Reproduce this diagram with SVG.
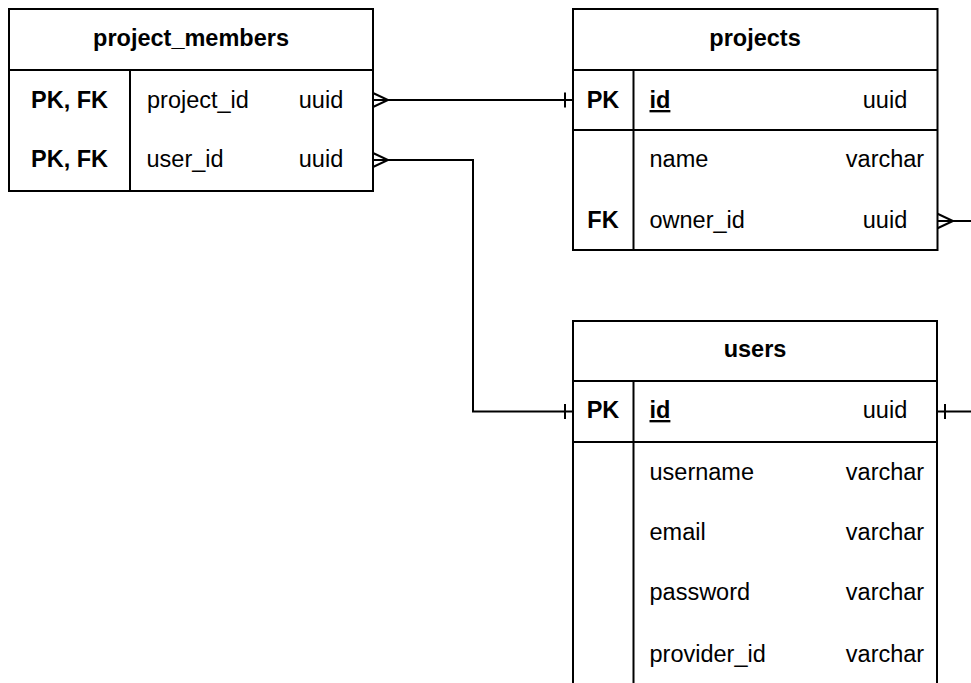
<svg xmlns="http://www.w3.org/2000/svg" width="971" height="683" viewBox="0 0 971 683">
<style>
.box{fill:#fff;stroke:#000;stroke-width:2}
.ln{stroke:#000;stroke-width:2;fill:none}
.t{font-family:"Liberation Sans",Arial,sans-serif;font-size:23.5px;fill:#000}
.b{font-weight:bold}
.m{text-anchor:middle}
.u{text-decoration:underline}
</style>
<rect width="971" height="683" fill="#fff"/>
<g id="connectors">
  <polyline class="ln" points="373,100 573,100"/>
  <polyline class="ln" points="373,93 388,100 373,107"/>
  <line class="ln" x1="565" y1="92.5" x2="565" y2="107.5"/>
  <polyline class="ln" points="373,160 473,160 473,411.5 573,411.5"/>
  <polyline class="ln" points="373,153 388,160 373,167"/>
  <line class="ln" x1="565" y1="404" x2="565" y2="419"/>
  <polyline class="ln" points="937,221 971,221"/>
  <polyline class="ln" points="937,213.5 953,221 937,228.5"/>
  <polyline class="ln" points="937,411.5 971,411.5"/>
  <line class="ln" x1="945" y1="404" x2="945" y2="419"/>
</g>
<g id="project_members">
  <rect class="box" x="9" y="9" width="364" height="182"/>
  <line class="ln" x1="9" y1="70" x2="373" y2="70"/>
  <line class="ln" x1="130" y1="70" x2="130" y2="191"/>
  <text class="t b m" x="191" y="46">project_members</text>
  <text class="t b m" x="69.5" y="108">PK, FK</text>
  <text class="t" x="147" y="108">project_id</text>
  <text class="t m" x="321" y="108">uuid</text>
  <text class="t b m" x="69.5" y="167">PK, FK</text>
  <text class="t" x="146.5" y="167">user_id</text>
  <text class="t m" x="321" y="167">uuid</text>
</g>
<g id="projects">
  <rect class="box" x="573" y="9" width="364.5" height="241"/>
  <line class="ln" x1="573" y1="70" x2="937.5" y2="70"/>
  <line class="ln" x1="573" y1="130" x2="937.5" y2="130"/>
  <line class="ln" x1="633.5" y1="70" x2="633.5" y2="250"/>
  <text class="t b m" x="755" y="46">projects</text>
  <text class="t b m" x="603" y="108">PK</text>
  <text class="t b u" x="649.5" y="108">id</text>
  <text class="t m" x="885" y="108">uuid</text>
  <text class="t" x="649.5" y="167">name</text>
  <text class="t m" x="885" y="167">varchar</text>
  <text class="t b m" x="603" y="228">FK</text>
  <text class="t" x="649.5" y="228">owner_id</text>
  <text class="t m" x="885" y="228">uuid</text>
</g>
<g id="users">
  <rect class="box" x="573" y="321" width="364" height="420"/>
  <line class="ln" x1="573" y1="381" x2="937" y2="381"/>
  <line class="ln" x1="573" y1="442" x2="937" y2="442"/>
  <line class="ln" x1="633.5" y1="381" x2="633.5" y2="741"/>
  <text class="t b m" x="755" y="357">users</text>
  <text class="t b m" x="603" y="418">PK</text>
  <text class="t b u" x="649.5" y="418">id</text>
  <text class="t m" x="885" y="418">uuid</text>
  <text class="t" x="649.5" y="480">username</text>
  <text class="t m" x="885" y="480">varchar</text>
  <text class="t" x="649.5" y="540">email</text>
  <text class="t m" x="885" y="540">varchar</text>
  <text class="t" x="649.5" y="600">password</text>
  <text class="t m" x="885" y="600">varchar</text>
  <text class="t" x="649.5" y="662">provider_id</text>
  <text class="t m" x="885" y="662">varchar</text>
</g>
</svg>
